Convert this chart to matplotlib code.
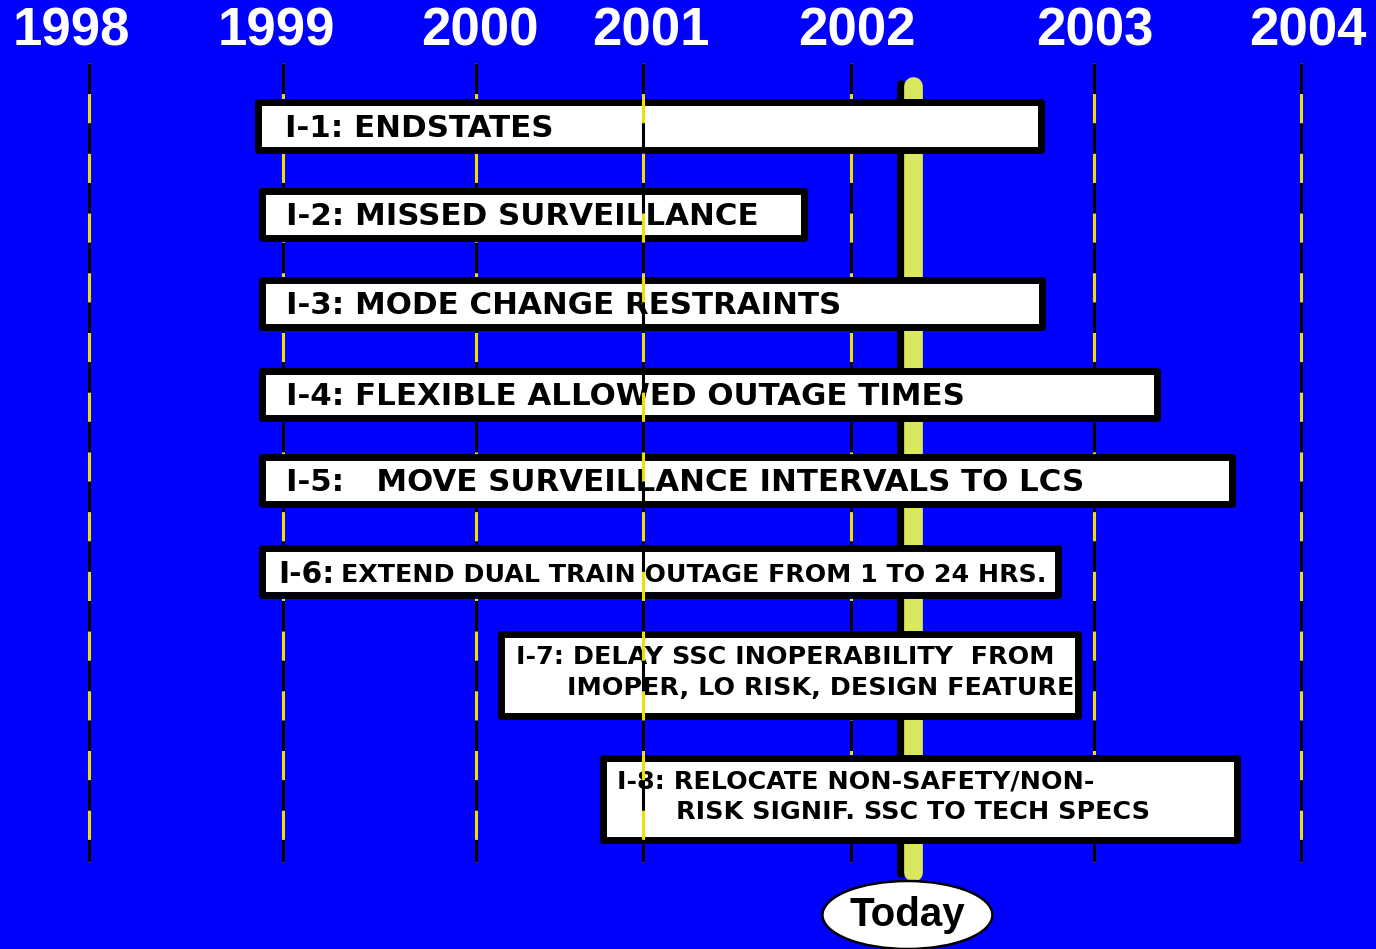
import numpy as np
import matplotlib.pyplot as plt
from matplotlib.patches import Rectangle, Ellipse
from matplotlib.transforms import offset_copy, IdentityTransform

plt.rcParams['font.family'] = ['Liberation Sans', 'DejaVu Sans']
plt.rcParams['lines.scale_dashes'] = False

# timeline years and where the slide put their grid lines (uneven spacing)
years = [1998, 1999, 2000, 2001, 2002, 2003, 2004]
year_px = [89, 283, 476, 643, 851, 1094, 1301]
label_nudge = [-18, -7, 4, 8, 6, 1, 7]

# initiatives: start / end as fractional years
tasks = ["I-1", "I-2", "I-3", "I-4", "I-5", "I-6", "I-7", "I-8"]
task_lines = [
    ["I-1: ENDSTATES"],
    ["I-2: MISSED SURVEILLANCE"],
    ["I-3: MODE CHANGE RESTRAINTS"],
    ["I-4: FLEXIBLE ALLOWED OUTAGE TIMES"],
    ["I-5:   MOVE SURVEILLANCE INTERVALS TO LCS"],
    ["EXTEND DUAL TRAIN OUTAGE FROM 1 TO 24 HRS."],
    ["I-7: DELAY SSC INOPERABILITY  FROM", "IMOPER, LO RISK, DESIGN FEATURE"],
    ["I-8: RELOCATE NON-SAFETY/NON-", "RISK SIGNIF. SSC TO TECH SPECS"],
]
start = [1998.87, 1998.89, 1998.89, 1998.89, 1998.89, 1998.89, 2000.147, 2000.758]
end = [2002.780, 2001.776, 2002.788, 2003.302, 2003.669, 2002.850, 2002.936, 2003.690]
today = 2002.257

# layout (pixel rows from the top)
row_y = [125.5, 214, 303, 394, 480, 571, 674.5, 798.5]
row_h = [48, 47, 47, 47, 47, 47, 82, 82]

ext_years = [1997] + years + [2005]
ext_px = [year_px[0] - 194] + year_px + [year_px[-1] + 207]


def fwd(x):
    return np.interp(x, ext_years, ext_px)


def inv(p):
    return np.interp(p, ext_px, ext_years)


fig = plt.figure(figsize=(13.76, 9.49), dpi=100)
fig.patch.set_facecolor('#0000ff')
ax = fig.add_axes([0, 0, 1, 1])
ax.set_facecolor('#0000ff')
ax.set_xscale('function', functions=(fwd, inv))
ax.set_xlim(inv(0), inv(1376))
ax.set_ylim(949, 0)
ax.axis('off')

# year labels
for yr, dx in zip(years, label_nudge):
    tr = offset_copy(ax.transData, fig, x=dx, y=0, units='dots')
    ax.text(yr, 45, str(yr), transform=tr, ha='center', va='baseline',
            color='white', fontsize=38, fontweight='bold')

# vertical year lines: yellow under black dashes
for yr in years:
    z = 6 if yr == 2001 else 2
    ax.vlines(yr, 63, 862, colors='#f0e000', linewidth=2.2, zorder=z)
    ax.vlines(yr, 63, 862, colors='black', linewidth=2.2, zorder=z,
              linestyles=(0, (22, 21)))

# today bar
shadow = offset_copy(ax.transData, fig, x=-12, y=0, units='dots')
ax.plot([today, today], [84, 874], color='black', linewidth=5.5,
        solid_capstyle='round', transform=shadow, zorder=1)
ax.plot([today, today], [86, 872], color='#d9e85c', linewidth=13.5,
        solid_capstyle='round', zorder=1)

# boxes and texts
box_font = 'DejaVu Sans'
text_dx = [27, 24, 24, 24, 24, 79, 15, 14]
indent_dx = [0, 0, 0, 0, 0, 0, 66, 73]
for i, name in enumerate(tasks):
    y0 = row_y[i] - row_h[i] / 2
    ax.add_patch(Rectangle((start[i], y0), end[i] - start[i], row_h[i],
                           facecolor='white', edgecolor='black', linewidth=5,
                           joinstyle='round', zorder=3))
    lines = task_lines[i]
    if len(lines) == 1:
        size = 18.2 if name == "I-6" else 22.2
        tr = offset_copy(ax.transData, fig, x=text_dx[i], y=0, units='dots')
        ax.text(start[i], row_y[i] + 11, lines[0], transform=tr, fontsize=size,
                fontweight='bold', family=box_font, va='baseline', ha='left',
                zorder=4)
    else:
        for k, line in enumerate(lines):
            dx = text_dx[i] if k == 0 else indent_dx[i]
            tr = offset_copy(ax.transData, fig, x=dx, y=0, units='dots')
            ax.text(start[i], row_y[i] - 10 + 30.5 * k, line, transform=tr,
                    fontsize=18.3, fontweight='bold', family=box_font,
                    va='baseline', ha='left', zorder=4)
    if name == "I-6":
        tr = offset_copy(ax.transData, fig, x=17, y=0, units='dots')
        ax.text(start[i], row_y[i] + 12, "I-6:", transform=tr, fontsize=21.5,
                fontweight='bold', family=box_font, va='baseline', ha='left',
                zorder=4)

# Today marker
cx, cy = ax.transData.transform((today, 915))
cx -= 6
ax.add_artist(Ellipse((cx, cy), 170, 68, transform=IdentityTransform(),
                      facecolor='white', edgecolor='black', linewidth=1.8,
                      zorder=5))
ax.text(cx, cy, "Today", transform=IdentityTransform(), ha='center',
        va='center', fontsize=29, fontweight='bold', zorder=6)

fig.savefig('out.png', dpi=100, facecolor=fig.get_facecolor())
